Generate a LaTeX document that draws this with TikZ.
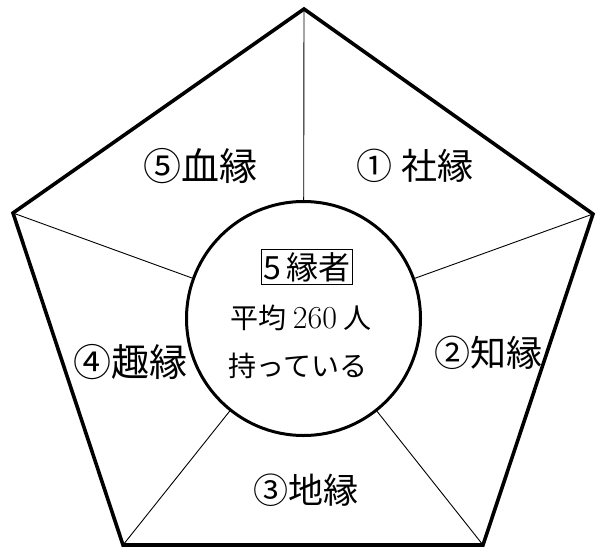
\documentclass[tikz,border=0pt]{standalone}
\usepackage{fontspec}
\newfontfamily\jp{Noto Sans CJK JP}
\begin{document}
\begin{tikzpicture}[x=1pt,y=-1pt,
  lab/.style={font=\jp\fontsize{#1}{#1}\selectfont, inner sep=0pt, anchor=center},
  mid/.style={font=\jp\fontsize{28}{28}\selectfont, inner sep=0pt, anchor=center},
  spoke/.style={line width=0.9pt},
  outline/.style={line width=3.6pt, line join=miter}]
\useasboundingbox (0,0) rectangle (597,549);
\coordinate (T) at (304,9);
\coordinate (R) at (593,214);
\coordinate (BR) at (483,545);
\coordinate (BL) at (123,545);
\coordinate (L) at (13,213);
\node[circle, draw, line width=3pt, minimum size=234pt, inner sep=0pt] (C) at (303.5,318.5) {};
\draw[spoke] (C) -- (T);
\draw[spoke] (C) -- (R);
\draw[spoke] (C) -- (BR);
\draw[spoke] (C) -- (BL);
\draw[spoke] (C) -- (L);
\draw[outline] (T) -- (R) -- (BR) -- (BL) -- (L) -- cycle;
\node[draw, line width=1.5pt, inner xsep=2pt, inner ysep=3pt, font=\jp\fontsize{32}{32}\selectfont] (K) at (307,267) {5\hspace{5pt}縁者};
\node[mid] (M1) at (301,318) {平均 {\rmfamily\fontsize{32}{32}\selectfont 260} 人};
\node[mid] (M2) at (298,366) {持っている};
\node[lab=38] (E5) at (200,166) {⑤血縁};
\node[lab=36] (E1) at (415,166) {① 社縁};
\node[lab=38] (E4) at (130,362) {④趣縁};
\node[lab=36] (E2) at (488,353) {②知縁};
\node[lab=35] (E3) at (306,490) {③地縁};
\end{tikzpicture}
\end{document}
